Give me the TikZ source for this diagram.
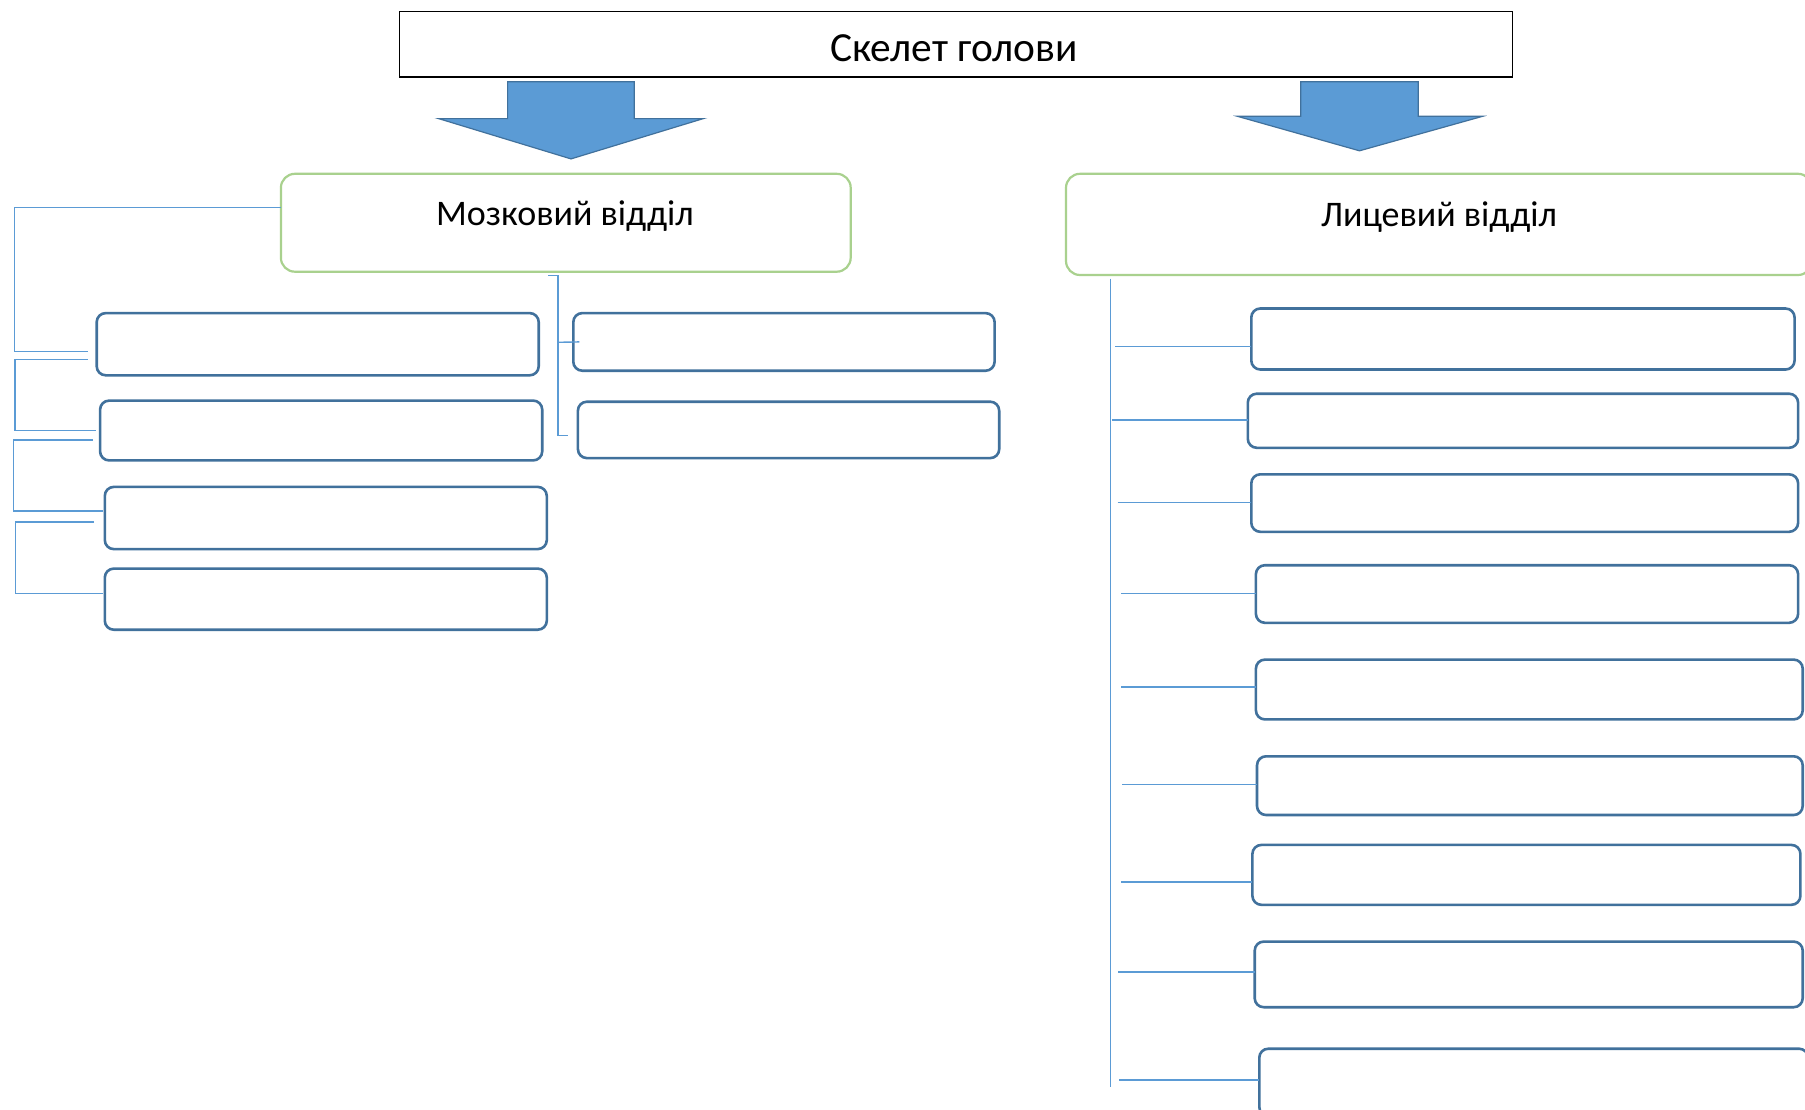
\documentclass[tikz,border=0pt]{standalone}
\usepackage{fontspec}
\setmainfont{Carlito}
\usetikzlibrary{calc}
\definecolor{boxblue}{HTML}{41719C}
\definecolor{linkblue}{HTML}{5B9BD5}
\definecolor{arrowfill}{HTML}{5B9BD5}
\definecolor{greenb}{HTML}{A9D18E}
\newcommand\mkbox[7]{\node[#2, minimum width={(#5-#3)*0.5pt}, minimum height={(#6-#4)*0.5pt}] (#1) at ({(#3+#5)/2},{(#4+#6)/2}) {#7};}
\begin{document}
\begin{tikzpicture}[x=0.5pt,y=-0.5pt,
  titlebox/.style={draw=black, line width=0.7pt, inner sep=0pt, outer sep=0pt},
  greenbox/.style={draw=greenb, line width=1.1pt, rounded corners=7pt, fill=white, inner sep=0pt, outer sep=0pt},
  bluebox/.style={draw=boxblue, line width=1.3pt, rounded corners=4.5pt, fill=white, inner sep=0pt, outer sep=0pt},
  conn/.style={draw=linkblue, line width=0.7pt},
  bigarrow/.style={fill=arrowfill, draw=boxblue, line width=0.6pt},
  titlelbl/.style={font=\fontsize{20.7}{24}\selectfont},
  lbl/.style={font=\fontsize{18}{22}\selectfont}]
\useasboundingbox (0,0) rectangle (1805,1109);
\clip (0,0) rectangle (1805,1109);
\fill[white] (0,0) rectangle (1805,1109);

% title
\mkbox{title}{titlebox}{399.5}{11.5}{1512.6}{77}{}
\node[titlelbl] (titletext) at (954,48) {Скелет голови};

% big arrows
\path[bigarrow] (507.6,81.7) -- (634.3,81.7) -- (634.3,118.6) -- (703.3,118.6) -- (571,158.9) -- (438.6,118.6) -- (507.6,118.6) -- cycle;
\path[bigarrow] (1300.7,81.7) -- (1418.2,81.7) -- (1418.2,116.3) -- (1482.6,116.3) -- (1359.5,150.8) -- (1237.4,116.3) -- (1300.7,116.3) -- cycle;

% section boxes
\mkbox{mozok}{greenbox}{280.9}{173.8}{850.7}{271.7}{}
\node[lbl] (mozoktext) at (565,216.5) {Мозковий відділ};
\mkbox{lice}{greenbox}{1066}{173.8}{1812}{275}{}
\node[lbl] (licetext) at (1439,217.5) {Лицевий відділ};

% left boxes
\mkbox{L1}{bluebox}{96.7}{313.1}{538.7}{375.3}{}
\mkbox{L2}{bluebox}{100.1}{400.6}{542.2}{460.4}{}
\mkbox{L3}{bluebox}{104.8}{486.9}{546.8}{549.1}{}
\mkbox{L4}{bluebox}{104.8}{568.6}{546.8}{629.7}{}
% middle boxes
\mkbox{M1}{bluebox}{573.3}{313.1}{994.6}{370.7}{}
\mkbox{M2}{bluebox}{577.9}{401.7}{999.2}{458.1}{}
% right boxes
\mkbox{R1}{bluebox}{1251.3}{308.5}{1794.6}{369.5}{}
\mkbox{R2}{bluebox}{1247.8}{393.7}{1798.1}{447.8}{}
\mkbox{R3}{bluebox}{1251.3}{474.3}{1798.1}{531.8}{}
\mkbox{R4}{bluebox}{1255.9}{565.2}{1798.1}{622.8}{}
\mkbox{R5}{bluebox}{1255.9}{659.6}{1802.7}{719.4}{}
\mkbox{R6}{bluebox}{1257}{756.3}{1802.7}{815}{}
\mkbox{R7}{bluebox}{1252.4}{844.9}{1800.4}{904.8}{}
\mkbox{R8}{bluebox}{1254.7}{941.6}{1802.7}{1007.2}{}
\mkbox{R9}{bluebox}{1259.3}{1048.7}{1808}{1116}{}

% left connectors
\draw[conn] (mozok.west |- 0,207.3) -| (14.2,351.7) -- ($(L1.west |- 0,351.7)+(-9,0)$);
\draw[conn] ($(L1.west |- 0,359.3)+(-9,0)$) -| (14.9,430.7) -- ($(L2.west |- 0,430.7)+(-4.4,0)$);
\draw[conn] ($(L2.west |- 0,440)+(-7,0)$) -| (13.4,511) -- ($(L3.west |- 0,511)+(-2,0)$);
\draw[conn] ($(L3.west |- 0,522)+(-10.7,0)$) -| (15.3,593.3) -- ($(L4.west |- 0,593.3)+(-1.5,0)$);

% middle bracket
\coordinate (mtop) at ($(mozok.south)+(-17.8,4)$);
\draw[conn] (mtop) -- ++(10,0) coordinate (mbend) -- (mbend |- 0,435.3) -- ($(M2.west |- 0,435.3)+(-9.6,0)$);
\draw[conn] (mbend |- 0,342.3) -- ($(M1.west)+(6,0)$);

% right trunk
\coordinate (rtop) at ($(lice.south west)+(44.5,3.6)$);
\coordinate (rbot) at (1110.5,1087);
\draw[conn] (rtop) -- (rbot);
\foreach \b/\sx/\yy in {R1/1115.4/346.5, R2/1112/420, R3/1117.7/502.5, R4/1121/593.5, R5/1121/687, R6/1122/784.5, R7/1121/882, R8/1118/972, R9/1119/1080}{
  \draw[conn] (\sx,\yy) -- (\b.west |- 0,\yy);
}
\end{tikzpicture}
\end{document}
